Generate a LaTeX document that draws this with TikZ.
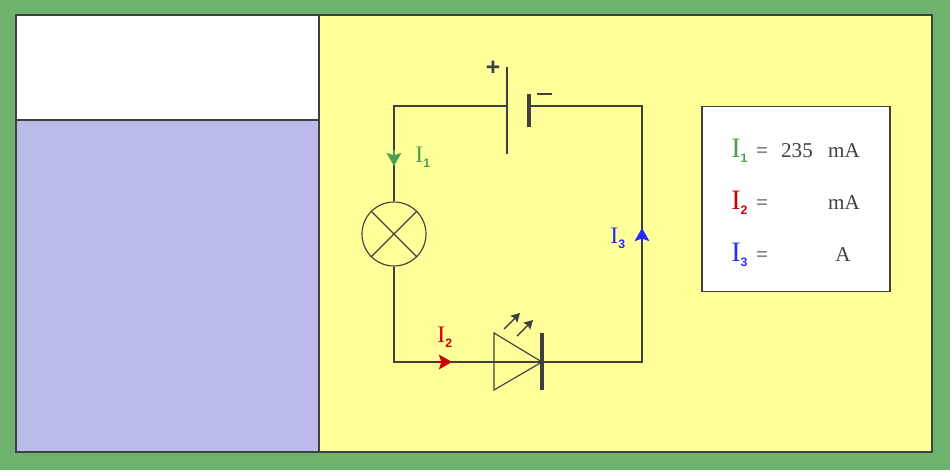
\documentclass[tikz,border=0pt]{standalone}
\usepackage{fontspec}
\setmainfont{Liberation Serif}
\newfontfamily\subfont{Liberation Sans}
\usetikzlibrary{arrows.meta}

\definecolor{bggreen}{RGB}{109,179,109}
\definecolor{panelyellow}{RGB}{255,255,153}
\definecolor{panelblue}{RGB}{187,187,235}
\definecolor{wiregray}{RGB}{64,64,64}
\definecolor{curgreen}{RGB}{76,159,80}
\definecolor{curred}{RGB}{204,0,0}
\definecolor{curblue}{RGB}{42,42,255}

\newcommand{\curname}[3]{{\fontsize{#1}{#1}\selectfont I}\raisebox{-0.32em}{\fontsize{#2}{#2}\subfont\bfseries #3}}

\tikzset{
  wire/.style={draw=wiregray, line width=0.65pt},
  thickbar/.style={draw=wiregray, line width=2pt},
  panel/.style={draw=wiregray, line width=0.7pt},
  curtip/.style={-{Stealth[length=7.5pt, width=8.5pt, inset=1.5pt]}, line width=0.7pt},
  smalltip/.style={wire, line width=0.8pt, -{Stealth[length=5pt, width=5.5pt, inset=0.8pt]}},
  curlabel/.style={inner sep=0pt, anchor=base west},
  readout/.style={inner sep=0pt, anchor=base, text=wiregray, font=\fontsize{12}{12}\selectfont},
}

\begin{document}
\begin{tikzpicture}[x=0.02cm, y=-0.02cm]
\useasboundingbox (0,0) rectangle (950,470);
\fill[bggreen] (0,0) rectangle (950,470);

% panels
\fill[panelyellow] (319,15) rectangle (932,452);
\fill[panelblue] (16,120) rectangle (319,452);
\fill[white] (16,15) rectangle (319,120);
\draw[panel] (16,15) rectangle (932,452);
\draw[panel] (319,15) -- (319,452);
\draw[panel] (16,120) -- (319,120);

% corners of the loop
\coordinate (tl) at (394,106);
\coordinate (tr) at (642,106);
\coordinate (bl) at (394,362);
\coordinate (br) at (642,362);

% battery
\coordinate (batplus) at (507,106);
\coordinate (batminus) at (529,106);
\draw[wire] (507,67) -- (507,154);
\draw[thickbar] (529,94) -- (529,127);
\node[inner sep=0pt, text=wiregray] (plus) at (493,68) {\fontsize{14}{14}\subfont\bfseries +};
\draw[wiregray, line width=1pt] (537,94) -- (552,94);

% lamp
\node[circle, wire, minimum size=64*0.02cm, inner sep=0pt] (lamp) at (394,234) {};
\draw[wire] (lamp.45) -- (lamp.225);
\draw[wire] (lamp.135) -- (lamp.315);

% led
\coordinate (ledin) at (494,362);
\coordinate (ledout) at (542,362);
\draw[wire] (494,333) -- (494,390) -- (ledout) -- cycle;
\draw[thickbar] (542,333) -- (542,390);
\draw[smalltip] (504,329) -- (520,313);
\draw[smalltip] (517,336) -- (533,320);

% wires
\draw[wire] (batplus) -- (tl) -- (lamp.north);
\draw[wire] (lamp.south) -- (bl) -- (ledin);
\draw[wire] (ledin) -- (ledout);
\draw[wire] (ledout) -- (br) -- (tr) -- (batminus);

% current arrows
\draw[curtip, curgreen] (394,150) -- (394,166);
\draw[curtip, curred] (436,362) -- (452,362);
\draw[curtip, curblue] (642,243) -- (642,228);

% current labels
\node[curlabel, text=curgreen] (ione) at (415,162) {\curname{13.5}{7}{1}};
\node[curlabel, text=curred] (itwo) at (437,342) {\curname{13.5}{7}{2}};
\node[curlabel, text=curblue] (ithree) at (610,243) {\curname{13.5}{7}{3}};

% readout box
\node[draw=wiregray, line width=0.7pt, fill=white, minimum width=188*0.02cm, minimum height=185*0.02cm, inner sep=0pt] (box) at (796,199) {};
\node[curlabel, text=curgreen] (rone) at (731,157) {\curname{16}{7}{1}};
\node[curlabel, text=curred] (rtwo) at (731,209) {\curname{16}{7}{2}};
\node[curlabel, text=curblue] (rthree) at (731,261) {\curname{16}{7}{3}};
\node[readout] (eqone) at (762,157) {=};
\node[readout] (eqtwo) at (762,209) {=};
\node[readout] (eqthree) at (762,261) {=};
\node[readout] (val) at (797,157) {235};
\node[readout] (unitone) at (844,157) {mA};
\node[readout] (unittwo) at (844,209) {mA};
\node[readout] (unitthree) at (843,261) {A};

\end{tikzpicture}
\end{document}
